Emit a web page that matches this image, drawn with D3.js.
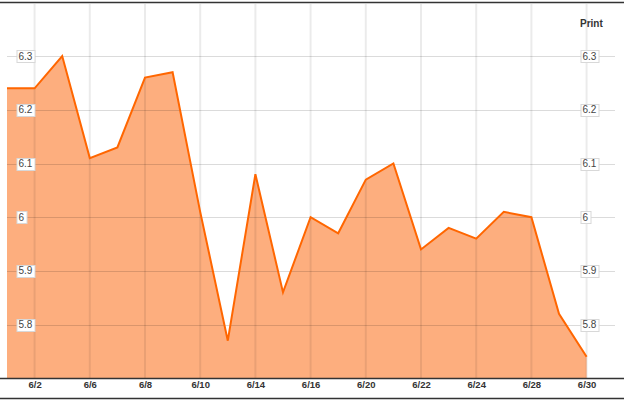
<!DOCTYPE html>
<html>
<head>
<meta charset="utf-8">
<script src="https://cdn.jsdelivr.net/npm/d3@7"></script>
<style>
  html, body { margin: 0; padding: 0; background: #fff; }
  svg { display: block; }
  text { font-family: "Liberation Sans", Arial, sans-serif; }
</style>
</head>
<body>
<script>
const dates = ["6/1","6/2","6/3","6/6","6/7","6/8","6/9","6/10","6/13","6/14","6/15","6/16","6/17","6/20","6/21","6/22","6/23","6/24","6/27","6/28","6/29","6/30"];
const values = [6.24,6.24,6.30,6.11,6.13,6.26,6.27,6.01,5.77,6.08,5.86,6.00,5.97,6.07,6.10,5.94,5.98,5.96,6.01,6.00,5.82,5.74];
const xTickLabels = ["6/2","6/6","6/8","6/10","6/14","6/16","6/20","6/22","6/24","6/28","6/30"];
const yTickValues = [5.8,5.9,6,6.1,6.2,6.3];
const yDomain = [5.7, 6.4];

const W = 624, H = 400;
const svg = d3.select("body").append("svg").attr("width", W).attr("height", H);

const x = d3.scalePoint().domain(dates).range([7, 586.6]);
const y = d3.scaleLinear().domain(yDomain).range([378.3, 2.4]);

const data = dates.map((d, i) => ({d, v: values[i]}));

// area
const area = d3.area().x(p => x(p.d)).y0(y(yDomain[0])).y1(p => y(p.v));
svg.append("path").datum(data).attr("d", area).attr("fill", "#fdae7e");

// grid lines (over area)
const grid = svg.append("g");
grid.selectAll("line.v").data(xTickLabels).join("line")
  .attr("class", "v")
  .attr("x1", d => x(d)).attr("x2", d => x(d))
  .attr("y1", 4).attr("y2", y(yDomain[0]))
  .attr("stroke", "#000").attr("stroke-opacity", 0.08).attr("stroke-width", 2);
grid.selectAll("line.h").data(yTickValues).join("line")
  .attr("class", "h")
  .attr("x1", 7).attr("x2", 615)
  .attr("y1", d => Math.round(y(d)) + 0.5).attr("y2", d => Math.round(y(d)) + 0.5)
  .attr("stroke", "#000").attr("stroke-opacity", 0.14).attr("stroke-width", 1);

// line
const line = d3.line().x(p => x(p.d)).y(p => y(p.v));
svg.append("path").datum(data).attr("d", line)
  .attr("fill", "none").attr("stroke", "#ff6600").attr("stroke-width", 2)
  .attr("stroke-linejoin", "miter");

// borders / axis lines
svg.append("line").attr("x1", 0).attr("x2", W).attr("y1", 2.5).attr("y2", 2.5)
  .attr("stroke", "#333").attr("stroke-width", 1.5);
svg.append("line").attr("x1", 0).attr("x2", W).attr("y1", 378.5).attr("y2", 378.5)
  .attr("stroke", "#333").attr("stroke-width", 1.5);
svg.append("line").attr("x1", 0).attr("x2", W).attr("y1", 398.5).attr("y2", 398.5)
  .attr("stroke", "#333").attr("stroke-width", 1.5);

// x axis labels via d3 axis
const xAxis = d3.axisBottom(x).tickValues(xTickLabels).tickSize(0).tickPadding(0);
const gx = svg.append("g").attr("transform", "translate(0,381)").call(xAxis);
gx.select(".domain").remove();
gx.selectAll("text")
  .attr("dy", "0.71em")
  .attr("font-family", "'Liberation Sans', Arial, sans-serif")
  .attr("font-size", "9.5px").attr("font-weight", "bold").attr("fill", "#333");

// y labels with boxes
function yLabels(x0) {
  const g = svg.append("g");
  yTickValues.forEach(v => {
    const cy = y(v);
    const t = g.append("text").text(d3.format("")(v))
      .attr("x", x0 + 2).attr("y", cy).attr("dy", "0.35em")
      .attr("font-size", "10px").attr("fill", "#444");
    const bb = t.node().getBBox();
    g.insert("rect", "text")
      .attr("x", x0 + 0.5).attr("y", Math.round(cy - 6) + 0.5)
      .attr("width", Math.round(bb.width + 4)).attr("height", 12)
      .attr("fill", "#fff").attr("stroke", "#d8d8d8").attr("stroke-width", 1);
  });
}
yLabels(16.5);
yLabels(580.5);

// Print
svg.append("text").text("Print").attr("x", 580).attr("y", 26.5)
  .attr("font-size", "10px").attr("font-weight", "bold").attr("fill", "#333");
</script>
</body>
</html>
